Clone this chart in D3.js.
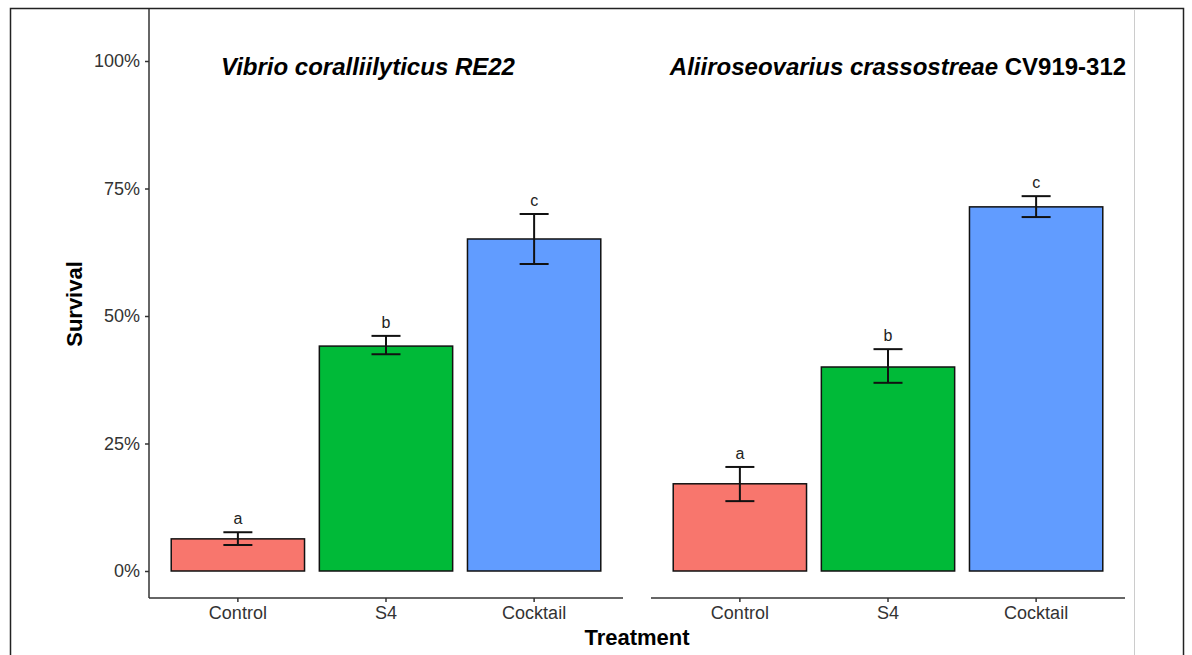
<!DOCTYPE html>
<html>
<head>
<meta charset="utf-8">
<script src="https://cdn.jsdelivr.net/npm/d3@7"></script>
<style>
  body { margin: 0; background: #fff; }
  svg { display: block; font-family: "Liberation Sans", Arial, sans-serif; }
</style>
</head>
<body>
<div id="chart"></div>
<script>
// data (survival, fraction)
const treatments = ["Control", "S4", "Cocktail"];
const survRE22 = [0.063, 0.441, 0.651];
const lowRE22 = [0.051, 0.425, 0.602];
const highRE22 = [0.076, 0.461, 0.700];
const lettersRE22 = ["a", "b", "c"];
const survCV = [0.171, 0.400, 0.714];
const lowCV = [0.137, 0.369, 0.694];
const highCV = [0.204, 0.435, 0.735];
const lettersCV = ["a", "b", "c"];
const yTicks = [0, 0.25, 0.5, 0.75, 1];
const colors = ["#F8766D", "#00BA38", "#619CFF"];

const W = 1192, H = 655;
const svg = d3.select("#chart").append("svg")
    .attr("width", W).attr("height", H);

// outer frame of the figure
svg.append("rect").attr("x", 10.5).attr("y", 8.5)
    .attr("width", 1173).attr("height", 660)
    .attr("fill", "none").attr("stroke", "#222").attr("stroke-width", 1.5);
svg.append("line").attr("x1", 1134.5).attr("x2", 1134.5).attr("y1", 9).attr("y2", H)
    .attr("stroke", "#ccc").attr("stroke-width", 1);

const y = d3.scaleLinear().domain([0, 1]).range([571, 61]);

// y axis
const yAxis = svg.append("g").attr("transform", "translate(149,0)")
    .call(d3.axisLeft(y).tickValues(yTicks).tickFormat(d3.format(".0%")).tickSize(4).tickPadding(5));
yAxis.select(".domain").attr("d", "M0,9V598").attr("stroke", "#333").attr("stroke-width", 1.5);
yAxis.selectAll(".tick line").attr("stroke", "#333").attr("stroke-width", 1.5);
yAxis.selectAll("text").attr("font-size", 18).attr("fill", "#333").attr("font-family", "Liberation Sans, Arial, sans-serif");

svg.append("text").attr("transform", "translate(82,304) rotate(-90)")
    .attr("text-anchor", "middle").attr("font-size", 22).attr("font-weight", "bold")
    .attr("fill", "#000").text("Survival");

const panelData = [
  { x0: 149, surv: survRE22, low: lowRE22, high: highRE22, letters: lettersRE22 },
  { x0: 651, surv: survCV, low: lowCV, high: highCV, letters: lettersCV }
];

panelData.forEach(p => {
  // ggplot style: 0.6 expansion each side, bar width 0.9 of a slot
  const x = d3.scaleBand().domain(treatments)
      .range([p.x0, p.x0 + 474]).paddingInner(0.1).paddingOuter(0.15);
  const g = svg.append("g");
  const ax = g.append("g").attr("transform", "translate(0,598)")
      .call(d3.axisBottom(x).tickSize(4).tickPadding(4));
  ax.select(".domain").attr("d", `M${p.x0},0H${p.x0 + 474}`).attr("stroke", "#333").attr("stroke-width", 1.5);
  ax.selectAll(".tick line").attr("stroke", "#333").attr("stroke-width", 1.5);
  ax.selectAll("text").attr("font-size", 18).attr("fill", "#333").attr("font-family", "Liberation Sans, Arial, sans-serif");

  const rows = treatments.map((t, i) => ({ t, v: p.surv[i], lo: p.low[i], hi: p.high[i], l: p.letters[i], c: colors[i] }));
  const cx = d => x(d.t) + x.bandwidth() / 2;

  g.selectAll("rect.bar").data(rows).enter().append("rect")
      .attr("x", d => x(d.t)).attr("width", x.bandwidth())
      .attr("y", d => y(d.v)).attr("height", d => y(0) - y(d.v))
      .attr("fill", d => d.c).attr("stroke", "#111").attr("stroke-width", 1.5);

  const cap = 14.5;
  const eb = g.selectAll("g.err").data(rows).enter().append("g")
      .attr("stroke", "#111").attr("stroke-width", 2);
  eb.append("line").attr("x1", cx).attr("x2", cx).attr("y1", d => y(d.lo)).attr("y2", d => y(d.hi));
  eb.append("line").attr("x1", d => cx(d) - cap).attr("x2", d => cx(d) + cap).attr("y1", d => y(d.lo)).attr("y2", d => y(d.lo));
  eb.append("line").attr("x1", d => cx(d) - cap).attr("x2", d => cx(d) + cap).attr("y1", d => y(d.hi)).attr("y2", d => y(d.hi));

  g.selectAll("text.let").data(rows).enter().append("text")
      .attr("x", cx).attr("y", d => y(d.hi) - 8)
      .attr("text-anchor", "middle").attr("font-size", 16).attr("fill", "#222")
      .text(d => d.l);
});

// panel titles
svg.append("text").attr("x", 368).attr("y", 75).attr("text-anchor", "middle")
    .attr("font-size", 24).attr("font-weight", "bold").attr("font-style", "italic")
    .text("Vibrio coralliilyticus RE22");
const t2 = svg.append("text").attr("x", 898).attr("y", 75).attr("text-anchor", "middle")
    .attr("font-size", 24).attr("font-weight", "bold");
t2.append("tspan").attr("font-style", "italic").text("Aliiroseovarius crassostreae");
t2.append("tspan").text(" CV919-312");

svg.append("text").attr("x", 637).attr("y", 645).attr("text-anchor", "middle")
    .attr("font-size", 22).attr("font-weight", "bold").text("Treatment");
</script>
</body>
</html>
